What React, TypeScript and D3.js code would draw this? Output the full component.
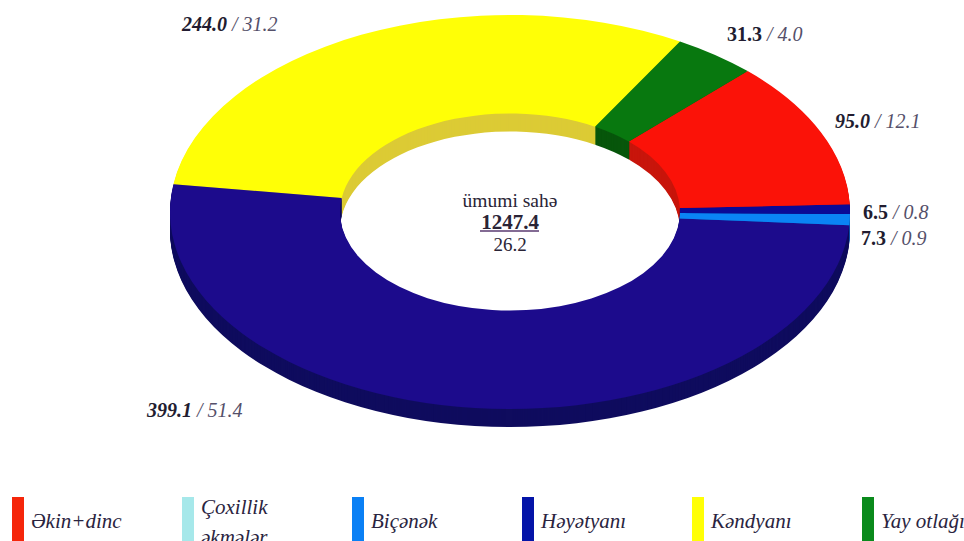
import React from 'react';
import * as d3 from 'd3';

// clockwise starting at the green slice; the printed shares add up to 100.4
const areaLabels = ['31.3', '95.0', '6.5', '7.3', '399.1', '244.0'];
const shares = [4.0, 12.1, 0.8, 0.9, 51.4, 31.2];
const topColors = ['#08780f', '#fb1208', '#0a0a96', '#0a84f5', '#1c0b8c', '#ffff06'];
const wallColors = ['#07560b', '#c8160c', '#0a0a6a', '#0a5cb0', '#0f0c5e', '#dccb35'];

const legendNames = ['Əkin+dinc', 'Çoxillik', 'Biçənək', 'Həyətyanı', 'Kəndyanı', 'Yay otlağı'];
const legendColors = ['#f5260a', '#a6e8ea', '#0a80f5', '#0414a8', '#ffff06', '#0a8a1c'];

const labelX = [727, 835, 863, 861, 147, 182];
const labelY = [41, 128, 219, 245, 417, 31];
const labelItalic = [false, true, false, false, true, true];

const App = () => {
  const cx = 510;
  const cy = 212;
  const rx = 340;
  const squash = 197 / 340;
  const thickness = 18;

  // 1% = 3.6 degrees, so the last (yellow) slice runs slightly under the green one
  const startAngle = (30 * Math.PI) / 180;
  const pie = d3
    .pie<number>()
    .sort(null)
    .startAngle(startAngle)
    .endAngle(startAngle + (d3.sum(shares) * 3.6 * Math.PI) / 180);
  const slices = pie(shares);

  const arc = d3.arc<d3.PieArcDatum<number>>().innerRadius(rx / 2).outerRadius(rx);

  const legendX = d3.scaleLinear().domain([0, 5]).range([12, 862]);
  const serif = '"Liberation Serif", serif';

  // draw backwards so green ends up on top of the yellow overlap
  const drawOrder = d3.range(slices.length - 1, -1, -1);

  return (
    <svg
      width={964}
      height={541}
      style={{ position: 'absolute', left: 0, top: 0, background: '#fff' }}
    >
      <defs>
        <clipPath id="page-crop">
          <rect x={0} y={15} width={964} height={526} />
        </clipPath>
      </defs>

      <g clipPath="url(#page-crop)">
        {/* side walls: stacked copies of the ring, lowest first */}
        {d3.range(thickness, 0, -1).map((t) => (
          <g key={t} transform={`translate(${cx},${cy + t}) scale(1,${squash})`}>
            {drawOrder.map((i) => (
              <path key={i} d={arc(slices[i]) ?? ''} fill={wallColors[i]} />
            ))}
          </g>
        ))}

        {/* top surface */}
        <g transform={`translate(${cx},${cy}) scale(1,${squash})`}>
          {drawOrder.map((i) => (
            <path key={i} d={arc(slices[i]) ?? ''} fill={topColors[i]} />
          ))}
        </g>
      </g>

      {/* value labels */}
      {areaLabels.map((a, i) => (
        <text key={i} x={labelX[i]} y={labelY[i]} fontFamily={serif} fontSize={20} fill="#221c30">
          <tspan fontWeight="bold" fontStyle={labelItalic[i] ? 'italic' : 'normal'}>{a}</tspan>
          <tspan fontStyle="italic" fill="#55506a">{` / ${shares[i].toFixed(1)}`}</tspan>
        </text>
      ))}

      {/* centre text */}
      <g fontFamily={serif} fill="#2a2436" textAnchor="middle">
        <text x={510} y={207} fontSize={19.5}>ümumi sahə</text>
        <text x={510} y={229} fontSize={21} fontWeight="bold">1247.4</text>
        <line x1={480} x2={539} y1={231} y2={231} stroke="#5a3a70" strokeWidth={1.5} />
        <text x={510} y={251} fontSize={19}>26.2</text>
      </g>

      {/* legend */}
      {legendNames.map((n, i) => (
        <g key={n}>
          <rect x={legendX(i)} y={497} width={12} height={44} fill={legendColors[i]} />
          <text
            x={legendX(i) + 19}
            y={i === 1 ? 514 : 528}
            fontFamily={serif}
            fontStyle="italic"
            fontSize={21}
            fill="#2a2440"
          >
            {n}
          </text>
        </g>
      ))}
      <text x={201} y={544} fontFamily={serif} fontStyle="italic" fontSize={21} fill="#2a2440">
        əkmələr
      </text>
    </svg>
  );
};

export default App;
